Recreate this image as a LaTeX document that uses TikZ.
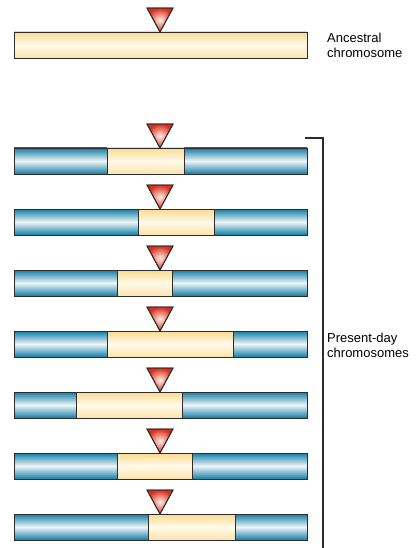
\documentclass[tikz,border=0pt]{standalone}
\usepackage{fontspec}
\setmainfont{Liberation Sans}
\usetikzlibrary{positioning}
\definecolor{chrblue}{RGB}{18,126,166}
\definecolor{chrpale}{RGB}{238,245,248}
\definecolor{chryellow}{RGB}{252,218,142}
\definecolor{chrcream}{RGB}{255,250,234}
\definecolor{mkred}{RGB}{218,46,26}
\definecolor{mkpink}{RGB}{255,236,228}
\definecolor{chrline}{RGB}{45,45,45}

\begin{document}
\begin{tikzpicture}[x=1pt,y=-1pt,
  bluebar/.style={top color=chrblue,bottom color=chrblue,middle color=chrpale},
  yellowbar/.style={top color=chryellow,bottom color=chryellow!75,middle color=chrcream},
  barline/.style={draw=chrline,line width=0.9pt},
  insertion/.style={draw=chrline,line width=0.8pt,inner color=mkpink,outer color=mkred},
  sidetext/.style={anchor=west,inner sep=0pt,align=left,font=\fontsize{13}{15}\selectfont}]
\useasboundingbox (0,0) rectangle (418,548);
% Ancestral chromosome
\shade[yellowbar] (14,32) rectangle (307,58);
\draw[barline] (14,32) rectangle (307,58);
\shade[insertion] (147,8) -- (173,8) -- (160,32) -- cycle;
\draw[barline] (147,8) -- (173,8) -- (160,32) -- cycle;
\node[sidetext] (ancestral) at (327,45) {Ancestral\\chromosome};
% Present-day chromosomes: top edge / left and right end of the yellow block
\foreach \t/\a/\b in {148/107/184,209/138/214,270/117/172,331/107/233,392/76/182,453/117/192,514/148/235} {
  \shade[bluebar] (14,\t) rectangle (307,\t+26);
  \shade[yellowbar] (\a,\t) rectangle (\b,\t+26);
  \draw[barline] (\a,\t) -- (\a,\t+26) (\b,\t) -- (\b,\t+26);
  \draw[barline] (14,\t) rectangle (307,\t+26);
  \shade[insertion] (147,\t-24) -- (173,\t-24) -- (160,\t) -- cycle;
  \draw[barline] (147,\t-24) -- (173,\t-24) -- (160,\t) -- cycle;
}
% Bracket
\coordinate (brtop) at (305,138);
\coordinate (brend) at (323,548);
\draw[chrline,line width=1.2pt] (brtop) -- (brtop -| brend) -- (brend);
\node[sidetext] (presentday) at (327,345) {Present-day\\chromosomes};
\end{tikzpicture}
\end{document}
